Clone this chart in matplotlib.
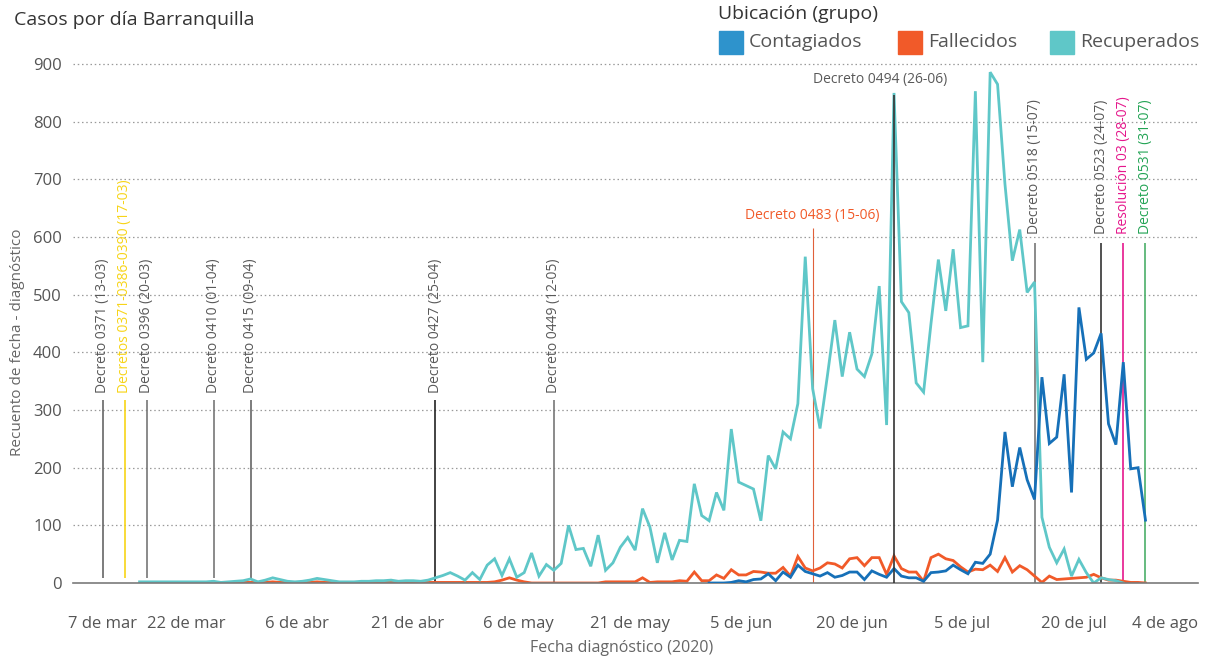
import matplotlib
matplotlib.use("Agg")
import matplotlib.pyplot as plt
import pandas as pd
from matplotlib.patches import Rectangle
from matplotlib.transforms import ScaledTranslation

plt.rcParams['font.family'] = ['Open Sans', 'DejaVu Sans']

# ---------------- data ----------------
recuperados_inicio = '2020-03-16'
recuperados = [2, 2, 2, 2, 2, 2, 2, 2, 2, 2, 3,
               1, 2, 3, 4, 7,
               2, 5, 9, 6, 3, 2, 3, 5, 8, 6, 4, 2, 2, 2, 3, 3, 4, 4, 5, 3, 4, 4, 3, 5,
               9, 13, 18, 12, 5, 18,
               6, 31, 42, 13, 42, 10, 18, 52, 12, 32, 22, 34, 100, 58, 60, 29, 83, 22, 35, 62,
               79, 57, 129, 97, 35, 87, 40, 74, 72, 172, 117,
               108, 157, 126, 267, 175, 169, 163, 108, 221, 198, 262, 250, 311, 566, 337,
               268, 360, 456, 358, 435, 371, 358, 397, 515, 274, 850, 488, 469, 347, 331,
               450, 561, 472, 579, 443, 446, 853, 383, 886, 865, 692, 559, 613, 504, 522,
               114, 62, 35, 59, 12, 41, 18, 0, 9, 6, 4, 0]

fallecidos_inicio = '2020-03-27'
fallecidos = [0, 1, 1, 1, 1,
              1, 1, 2, 1, 1, 1, 1, 1, 2, 1, 1, 1, 1, 1, 1, 1, 2, 1, 1, 1, 1, 1, 1, 1, 1,
              1, 1, 1, 1, 1,
              1, 1, 2, 5, 9, 5, 2, 0, 0, 0, 0, 0, 0, 0, 0, 0, 0, 2, 2, 2, 2, 2,
              9, 1, 2, 2, 2, 4, 3, 19, 4,
              4, 14, 8, 23, 14, 14, 20, 19, 17, 17, 27, 12, 46, 26, 21, 26, 35, 33, 26, 42,
              44, 30, 44, 44, 15, 47, 25, 19, 19, 3,
              44, 50, 42, 39, 28, 19, 24, 23, 31, 20, 44, 19, 30, 23, 12, 1, 12, 6, 7, 8,
              9, 10, 15, 9, 5, 5, 3, 1, 1, 0]

contagiados_inicio = '2020-06-01'
contagiados = [0, 0, 0, 1, 4, 2, 6, 7, 16, 4, 19, 10, 31, 20, 16, 12, 18, 10, 13, 19,
               19, 6, 21, 15, 10, 25, 12, 9, 9, 3,
               18, 19, 21, 31, 23, 16, 36, 34, 50, 109, 262, 167, 235, 179, 145, 357, 242,
               253, 362, 157, 478, 388, 399, 433, 276, 240, 383, 198, 200, 109]

series_nombres = ['Contagiados', 'Fallecidos', 'Recuperados']
series_colores = ['#1670b8', '#f15a29', '#5fc7c8']
leyenda_colores = ['#2e93cc', '#f15a29', '#5fc7c8']

# decrees: label text, date at which the line is drawn in the chart, colour
decretos_texto = ['Decreto 0371 (13-03)', 'Decretos 0371-0386-0390 (17-03)',
                  'Decreto 0396 (20-03)', 'Decreto 0410 (01-04)', 'Decreto 0415 (09-04)',
                  'Decreto 0427 (25-04)', 'Decreto 0449 (12-05)', 'Decreto 0483 (15-06)',
                  'Decreto 0494 (26-06)', 'Decreto 0518 (15-07)', 'Decreto 0523 (24-07)',
                  'Resolución 03 (28-07)', 'Decreto 0531 (31-07)']
decretos_fecha = ['2020-03-11', '2020-03-14', '2020-03-17', '2020-03-26', '2020-03-31',
                  '2020-04-25', '2020-05-11', '2020-06-15', '2020-06-26', '2020-07-15',
                  '2020-07-24', '2020-07-27', '2020-07-30']
decretos_color_texto = ['#595959', '#f7d417', '#595959', '#595959', '#595959', '#595959',
                        '#595959', '#f15a29', '#595959', '#595959', '#595959', '#e5178c',
                        '#23a455']
decretos_color_linea = ['#666666', '#f7d417', '#777777', '#777777', '#666666', '#222222',
                        '#777777', '#e0603a', '#333333', '#777777', '#333333', '#e5178c',
                        '#4caf6a']

x_ticks = ['2020-03-07', '2020-03-22', '2020-04-06', '2020-04-21', '2020-05-06',
           '2020-05-21', '2020-06-05', '2020-06-20', '2020-07-05', '2020-07-20',
           '2020-08-04']
meses = {3: 'mar', 4: 'abr', 5: 'may', 6: 'jun', 7: 'jul', 8: 'ago'}
y_ticks = [0, 100, 200, 300, 400, 500, 600, 700, 800, 900]

# ---------------- figure ----------------
W, H = 1209, 660
fig = plt.figure(figsize=(W / 100, H / 100), dpi=100)
ax = fig.add_axes([73 / W, (H - 583) / H, (1198 - 73) / W, (583 - 52) / H])

start = pd.Timestamp('2020-03-01')
ax.set_xlim(start + pd.Timedelta(days=6.9), start + pd.Timedelta(days=158.1))
ax.set_ylim(0, 921)

for spine in ['top', 'right', 'left']:
    ax.spines[spine].set_visible(False)
ax.spines['bottom'].set_color('#7a7a7a')
ax.spines['bottom'].set_linewidth(1.2)

for v in y_ticks[1:]:
    ax.axhline(v, color='#9a9a9a', linestyle=(0, (1.2, 2.2)), linewidth=0.9, zorder=0)

# decree lines
fs_dec = 10
for i, (txt, f, ct, cl) in enumerate(zip(decretos_texto, decretos_fecha,
                                         decretos_color_texto, decretos_color_linea)):
    d = pd.Timestamp(f)
    if i < 5:
        ax.vlines(d, 8, 317, color=cl, linewidth=1.2, zorder=1)
        ax.text(d, 330, txt, rotation=90, ha='center', va='bottom', fontsize=fs_dec, color=ct)
    elif i < 7:
        ax.vlines(d, 0, 317, color=cl, linewidth=1.2, zorder=1)
        ax.text(d, 330, txt, rotation=90, ha='center', va='bottom', fontsize=fs_dec, color=ct)
    elif i == 7:
        ax.vlines(d, 0, 615, color=cl, linewidth=0.8, zorder=1)
        ax.text(d, 638, txt, ha='center', va='center', fontsize=fs_dec, color=ct)
    elif i == 8:
        ax.vlines(d, 0, 846, color=cl, linewidth=1.2, zorder=4)
        t = ax.text(d, 874, txt, ha='center', va='center', fontsize=fs_dec, color=ct)
        t.set_transform(t.get_transform() + ScaledTranslation(-14 / 100, 0, fig.dpi_scale_trans))
    else:
        ax.vlines(d, 0, 590, color=cl, linewidth=1.2, zorder=1)
        ax.text(d, 606, txt, rotation=90, ha='center', va='bottom', fontsize=fs_dec, color=ct)

# series
datos = [(contagiados_inicio, contagiados), (fallecidos_inicio, fallecidos),
         (recuperados_inicio, recuperados)]
zorders = [3, 2, 2.5]
for (ini, vals), col, z in zip(datos, series_colores, zorders):
    fechas = pd.date_range(ini, periods=len(vals), freq='D')
    ax.plot(fechas, vals, color=col, linewidth=2.0, zorder=z, solid_joinstyle='miter')

# ticks
tick_dates = [pd.Timestamp(t) for t in x_ticks]
ax.set_xticks(tick_dates)
ax.set_xticklabels([f"{t.day} de {meses[t.month]}" for t in tick_dates])
ax.set_yticks(y_ticks)
ax.set_yticklabels([str(v) for v in y_ticks])
ax.tick_params(axis='x', length=0, pad=24, labelsize=12, labelcolor='#555555')
ax.tick_params(axis='y', length=0, pad=8, labelsize=12, labelcolor='#555555')
labels = ax.get_xticklabels()
for k, lab in enumerate(labels):
    if k == 0:
        lab.set_ha('left')
        dx = -5
    elif k == len(labels) - 1:
        dx = -17
    else:
        dx = 2
    lab.set_transform(lab.get_transform() + ScaledTranslation(dx / 100, 0, fig.dpi_scale_trans))

# texts
fig.text(14 / W, 1 - 20 / H, 'Casos por día Barranquilla', fontsize=14, color='#333333',
         ha='left', va='center')
fig.text(622 / W, 1 - 648 / H, 'Fecha diagnóstico (2020)', fontsize=11.5, color='#666666',
         ha='center', va='center')
fig.text(18 / W, 1 - 342 / H, 'Recuento de fecha - diagnóstico', fontsize=11,
         color='#666666', ha='center', va='center', rotation=90)

# legend
fig.text(718 / W, 1 - 14 / H, 'Ubicación (grupo)', fontsize=14, color='#333333',
         ha='left', va='center')
box_x = [719, 898, 1050]
for bx, nombre, col in zip(box_x, series_nombres, leyenda_colores):
    fig.patches.append(Rectangle((bx / W, 1 - 54 / H), 24 / W, 23 / H,
                                 transform=fig.transFigure, color=col, figure=fig))
    fig.text((bx + 30) / W, 1 - 42 / H, nombre, fontsize=14, color='#555555',
             ha='left', va='center')

fig.savefig('out.png', dpi=100)
